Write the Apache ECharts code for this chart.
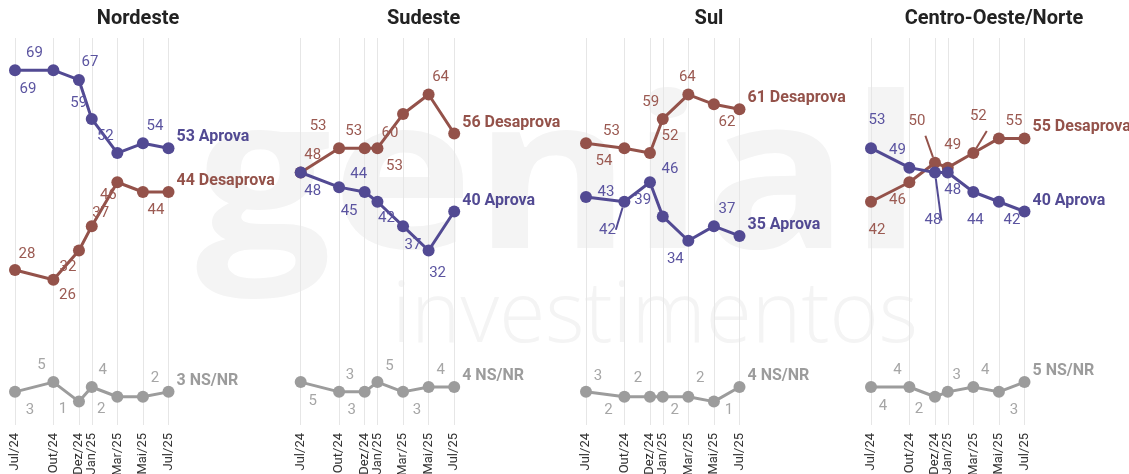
<!DOCTYPE html>
<html lang="pt-br">
<head>
  <meta charset="UTF-8" />
  <title>Aprovação por região</title>
  <script src="https://cdn.jsdelivr.net/npm/echarts@6/dist/echarts.min.js"></script>
  <style>
    body { margin: 0; padding: 0; background: #fff; }
    #chart { width: 1129px; height: 474px; }
  </style>
</head>
<body>
  <div id="chart"></div>

  <script>
    // eixo com todos os meses; só os meses de pesquisa recebem rótulo e linha
    const months = ['Jul/24', 'Ago/24', 'Set/24', 'Out/24', 'Nov/24', 'Dez/24', 'Jan/25',
                    'Fev/25', 'Mar/25', 'Abr/25', 'Mai/25', 'Jun/25', 'Jul/25'];
    const surveys = ['Jul/24', 'Out/24', 'Dez/24', 'Jan/25', 'Mar/25', 'Mai/25', 'Jul/25'];
    const regions = ['Nordeste', 'Sudeste', 'Sul', 'Centro-Oeste/Norte'];

    const nordesteAprova    = [69, 69, 67, 59, 52, 54, 53];
    const nordesteDesaprova = [28, 26, 32, 37, 46, 44, 44];
    const nordesteNsnr      = [3, 5, 1, 4, 2, 2, 3];

    const sudesteAprova    = [48, 45, 44, 42, 37, 32, 40];
    const sudesteDesaprova = [48, 53, 53, 53, 60, 64, 56];
    const sudesteNsnr      = [5, 3, 3, 5, 3, 4, 4];

    const sulAprova    = [43, 42, 46, 39, 34, 37, 35];
    const sulDesaprova = [54, 53, 52, 59, 64, 62, 61];
    const sulNsnr      = [3, 2, 2, 2, 2, 1, 4];

    const coAprova    = [53, 49, 48, 48, 44, 42, 40];
    const coDesaprova = [42, 46, 50, 49, 52, 55, 55];
    const coNsnr      = [4, 4, 2, 3, 4, 3, 5];

    const seriesNames = ['Aprova', 'Desaprova', 'NS/NR'];
    const panelValues = [
      [nordesteAprova, nordesteDesaprova, nordesteNsnr],
      [sudesteAprova, sudesteDesaprova, sudesteNsnr],
      [sulAprova, sulDesaprova, sulNsnr],
      [coAprova, coDesaprova, coNsnr]
    ];

    // ---- layout ----
    const lineColors  = ['#524a93', '#94524a', '#9c9c9c'];
    const labelColors = ['#5b54a0', '#9b5a52', '#a6a6a6'];
    const panelLeft = [15, 300.7, 586, 871];
    const panelWidth = 153.5;

    // deslocamento [dx, dy] de cada rótulo (o último ponto usa o rótulo final)
    const labelOffsets = [
      [ // Nordeste
        [[13, 19], [-19, -17], [11, -18], [-13, -16], [-12, -17], [12, -17]],
        [[12, -16], [14, 15], [-11, 17], [9, -13], [-9, 13], [13, 18]],
        [[15, 18], [-12, -17], [-16, 8], [11, -17], [-16, 13], [12, -18]]
      ],
      [ // Sudeste
        [[12, 19], [10, 24], [-6, -18], [9, 16], [10, 19], [9, 23]],
        [[12, -17], [-21, -22], [-11, -17], [17, 18], [-13, 19], [12, -17]],
        [[12, 19], [11, -17], [-13, 18], [12, -16], [14, 18], [12, -17]]
      ],
      [ // Sul
        [[20, -5], [-17, 28], [20, -13], [-20, -16], [-13, 18], [13, -17]],
        [[18, 18], [-13, -17], [20, -17], [-12, -17], [-1, -17], [13, 18]],
        [[12, -16], [-16, 14], [-12, -18], [12, 14], [12, -18], [15, 9]]
      ],
      [ // Centro-Oeste/Norte
        [[6, -28], [-12, -17], [-2, 48], [5, 18], [2, 28], [13, 18]],
        [[6, 28], [-12, 18], [-18, -42], [5, -22], [5, -37], [15, -17]],
        [[12, 19], [-12, -17], [-16, 13], [9, -17], [12, -17], [15, 18]]
      ]
    ];
    // rótulos ligados ao ponto por uma linha: [painel, série, índice]
    const leaderLines = [[2, 0, 1], [3, 0, 2], [3, 1, 2], [3, 1, 4]];

    const grids = [], xAxes = [], yAxes = [], titles = [], series = [];

    regions.forEach((region, p) => {
      grids.push({
        left: panelLeft[p], width: panelWidth, top: 38, height: 387,
        containLabel: false, outerBoundsMode: 'none'
      });
      titles.push({
        text: region,
        left: panelLeft[p] + 118,
        top: 4,
        textAlign: 'center',
        textStyle: { fontFamily: 'Roboto', fontSize: 20, fontWeight: 'bold', color: '#222' }
      });
      xAxes.push({
        type: 'category',
        gridIndex: p,
        data: months,
        boundaryGap: false,
        axisLine: { show: false },
        axisTick: { show: false },
        splitLine: {
          show: true,
          interval: (i, v) => surveys.includes(months[i]),
          lineStyle: { color: '#e6e6e6', width: 1 }
        },
        axisLabel: {
          interval: (i, v) => surveys.includes(months[i]),
          rotate: 90,
          margin: 8,
          fontFamily: 'Roboto',
          fontSize: 13,
          color: '#333'
        }
      });
      yAxes.push({ type: 'value', gridIndex: p, min: -3.8, max: 75.6, show: false });

      seriesNames.forEach((name, s) => {
        const vals = panelValues[p][s];
        const data = surveys.map((m, i) => {
          const last = i === surveys.length - 1;
          const item = { value: [m, vals[i]] };
          if (last) {
            item.label = {
              show: true,
              position: 'right',
              distance: 2,
              offset: [0, -11],
              fontWeight: 'bold',
              fontSize: 16,
              color: lineColors[s],
              formatter: vals[i] + ' ' + name
            };
          } else {
            item.label = {
              show: true,
              position: 'inside',
              offset: labelOffsets[p][s][i],
              formatter: String(vals[i])
            };
            const hasLine = leaderLines.some(l => l[0] === p && l[1] === s && l[2] === i);
            if (hasLine) {
              item.labelLine = { show: true, lineStyle: { color: lineColors[s], width: 2 } };
            }
          }
          return item;
        });
        series.push({
          name: name,
          type: 'line',
          xAxisIndex: p,
          yAxisIndex: p,
          data: data,
          symbol: 'circle',
          symbolSize: 12,
          lineStyle: { color: lineColors[s], width: 3 },
          itemStyle: { color: lineColors[s] },
          label: {
            fontFamily: 'Roboto',
            fontSize: 15,
            color: labelColors[s]
          },
          labelLine: { show: false },
          z: 3 - s,
          emphasis: { disabled: true }
        });
      });
    });

    const chart = echarts.init(document.getElementById('chart'));
    chart.setOption({
      animation: false,
      backgroundColor: '#fff',
      textStyle: { fontFamily: 'Roboto' },
      title: titles,
      grid: grids,
      xAxis: xAxes,
      yAxis: yAxes,
      series: series,
      graphic: [
        {
          type: 'text', x: 196, y: 187, scaleY: 0.886, z: -10, silent: true,
          style: { text: 'genial', font: 'bold 240px "Open Sans"', fill: '#f4f4f4', verticalAlign: 'middle' }
        },
        {
          type: 'text', x: 392, y: 318, z: -10, silent: true,
          style: { text: 'investimentos', font: '300 84px "Open Sans"', fill: '#f4f4f4', verticalAlign: 'middle' }
        }
      ]
    });
  </script>
</body>
</html>
